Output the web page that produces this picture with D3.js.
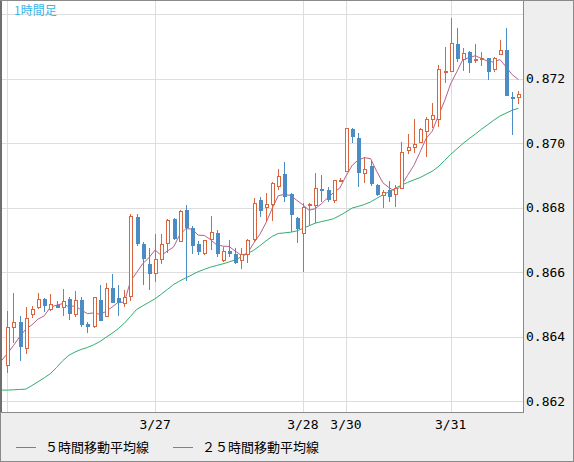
<!DOCTYPE html>
<html>
<head>
<meta charset="utf-8">
<script src="https://cdn.jsdelivr.net/npm/d3@7"></script>
<style>
  body { margin: 0; background: #ffffff; }
  text { font-family: "DejaVu Sans Mono", monospace; font-size: 13px; fill: #000; }
  .jp { font-family: "Noto Sans CJK JP", sans-serif; }
</style>
</head>
<body>
<div id="chart"></div>
<script>
// hourly candles, left to right (index 0 = 3/26 00:00)
var openP  = [0.86312,0.86430,0.86445,0.86365,0.86470,0.86492,0.86517,0.86485,0.86499,0.86492,
              0.86517,0.86470,0.86514,0.86440,0.86431,0.86514,0.86462,0.86552,0.86521,0.86504,
              0.86524,0.86770,0.86688,0.86626,0.86595,0.86641,0.86690,0.86765,0.86696,0.86793,
              0.86736,0.86688,0.86657,0.86702,0.86721,0.86636,0.86665,0.86657,0.86635,0.86654,
              0.86700,0.86824,0.86801,0.86811,0.86866,0.86904,0.86842,0.86767,0.86721,0.86806,
              0.86808,0.86859,0.86855,0.86822,0.86884,0.86912,0.87044,0.87015,0.86907,0.86929,
              0.86870,0.86837,0.86855,0.86842,0.86860,0.86976,0.86986,0.87001,0.87036,0.87072,
              0.87072,0.87220,0.87221,0.87307,0.87260,0.87283,0.87259,0.87262,0.87263,0.87229,
              0.87276,0.87289,0.87142,0.87142];
var highP  = [0.86480,0.86536,0.86465,0.86492,0.86496,0.86536,0.86519,0.86532,0.86510,0.86548,
              0.86523,0.86543,0.86523,0.86447,0.86524,0.86560,0.86568,0.86594,0.86560,0.86545,
              0.86780,0.86781,0.86695,0.86674,0.86719,0.86718,0.86764,0.86767,0.86793,0.86808,
              0.86743,0.86697,0.86700,0.86774,0.86731,0.86677,0.86700,0.86674,0.86674,0.86703,
              0.86829,0.86832,0.86845,0.86881,0.86920,0.86942,0.86845,0.86772,0.86816,0.86814,
              0.86909,0.86901,0.86865,0.86886,0.86892,0.87045,0.87046,0.87032,0.86958,0.86948,
              0.86872,0.86855,0.86883,0.86870,0.87002,0.87027,0.87075,0.87046,0.87080,0.87125,
              0.87242,0.87299,0.87387,0.87356,0.87294,0.87286,0.87307,0.87282,0.87264,0.87266,
              0.87320,0.87356,0.87159,0.87162];
var lowP   = [0.86288,0.86381,0.86326,0.86347,0.86457,0.86487,0.86478,0.86481,0.86490,0.86466,
              0.86452,0.86461,0.86431,0.86411,0.86428,0.86449,0.86461,0.86504,0.86466,0.86493,
              0.86512,0.86681,0.86561,0.86545,0.86571,0.86626,0.86659,0.86700,0.86694,0.86574,
              0.86657,0.86654,0.86655,0.86669,0.86646,0.86633,0.86648,0.86626,0.86609,0.86629,
              0.86695,0.86772,0.86760,0.86760,0.86855,0.86819,0.86726,0.86690,0.86602,0.86746,
              0.86752,0.86819,0.86819,0.86814,0.86882,0.86911,0.86999,0.86863,0.86876,0.86867,
              0.86837,0.86798,0.86819,0.86803,0.86859,0.86965,0.86970,0.86999,0.86958,0.87046,
              0.87049,0.87187,0.87220,0.87252,0.87224,0.87216,0.87247,0.87239,0.87196,0.87220,
              0.87275,0.87146,0.87025,0.87121];
var closeP = [0.86430,0.86445,0.86369,0.86457,0.86485,0.86517,0.86496,0.86501,0.86490,0.86509,
              0.86470,0.86512,0.86437,0.86431,0.86523,0.86450,0.86550,0.86506,0.86506,0.86523,
              0.86774,0.86688,0.86641,0.86595,0.86641,0.86687,0.86761,0.86702,0.86789,0.86736,
              0.86682,0.86664,0.86697,0.86724,0.86656,0.86664,0.86657,0.86630,0.86654,0.86697,
              0.86814,0.86791,0.86811,0.86874,0.86897,0.86834,0.86777,0.86734,0.86802,0.86811,
              0.86860,0.86853,0.86824,0.86885,0.86885,0.87044,0.87020,0.86907,0.86919,0.86872,
              0.86839,0.86847,0.86834,0.86860,0.86971,0.86986,0.86996,0.87041,0.87074,0.87085,
              0.87229,0.87223,0.87309,0.87260,0.87278,0.87249,0.87260,0.87263,0.87221,0.87263,
              0.87286,0.87146,0.87140,0.87150];

// moving averages, first value belongs to the hour before index 0
var maStart = -1;
var ma5  = [0.86325,0.86348,0.86373,0.86400,0.86424,0.86437,0.86455,0.86465,0.86492,0.86498,
            0.86503,0.86493,0.86496,0.86483,0.86472,0.86474,0.86470,0.86478,0.86492,0.86507,
            0.86507,0.86572,0.86599,0.86627,0.86645,0.86669,0.86652,0.86666,0.86678,0.86716,
            0.86735,0.86734,0.86715,0.86714,0.86701,0.86685,0.86681,0.86680,0.86666,0.86652,
            0.86659,0.86690,0.86717,0.86753,0.86797,0.86837,0.86841,0.86838,0.86823,0.86809,
            0.86792,0.86797,0.86812,0.86830,0.86847,0.86861,0.86898,0.86931,0.86948,0.86955,
            0.86952,0.86912,0.86877,0.86862,0.86851,0.86870,0.86900,0.86930,0.86971,0.87014,
            0.87037,0.87085,0.87130,0.87184,0.87221,0.87260,0.87264,0.87271,0.87262,0.87254,
            0.87251,0.87259,0.87236,0.87212,0.87197];
var ma25 = [0.86235,0.86235,0.86236,0.86237,0.86238,0.86249,0.86261,0.86273,0.86286,0.86305,
            0.86326,0.86343,0.86353,0.86361,0.86367,0.86375,0.86385,0.86398,0.86411,0.86425,
            0.86442,0.86463,0.86485,0.86496,0.86507,0.86518,0.86532,0.86547,0.86562,0.86573,
            0.86583,0.86592,0.86602,0.86609,0.86616,0.86621,0.86626,0.86632,0.86638,0.86648,
            0.86658,0.86668,0.86682,0.86697,0.86711,0.86720,0.86722,0.86724,0.86728,0.86736,
            0.86744,0.86752,0.86757,0.86761,0.86766,0.86776,0.86787,0.86799,0.86804,0.86810,
            0.86818,0.86829,0.86840,0.86849,0.86860,0.86870,0.86878,0.86886,0.86893,0.86903,
            0.86913,0.86927,0.86946,0.86965,0.86982,0.86999,0.87014,0.87028,0.87043,0.87057,
            0.87071,0.87084,0.87093,0.87102,0.87108];

// day separators and labels
var dayIdx    = [0, 24, 48, 55, 72];
var dayLabels = ["", "3/27", "3/28", "3/30", "3/31"];
var yTicks      = [0.862, 0.864, 0.866, 0.868, 0.870, 0.872, 0.874];
var yTickLabels = ["0.862", "0.864", "0.866", "0.868", "0.870", "0.872", ""];

var titleText = "1時間足";
var legendNames = ["５時間移動平均線", "２５時間移動平均線"];

var upColor = "#d9653f", downColor = "#4b8cc5";
var ma5Color = "#b3628f", ma25Color = "#2eae6f";

var svgWidth = 574, svgHeight = 462;
var plot = { left: 1, top: 0, right: 523, bottom: 412 };

var svg = d3.select("#chart").append("svg")
    .attr("width", svgWidth)
    .attr("height", svgHeight);

// outer frame
svg.append("rect")
    .attr("x", 0.5).attr("y", 0.5)
    .attr("width", svgWidth - 1).attr("height", svgHeight - 1)
    .attr("fill", "#eeeeee").attr("stroke", "#8a8a8a");

svg.append("rect")
    .attr("x", plot.left).attr("y", plot.top)
    .attr("width", plot.right - plot.left).attr("height", plot.bottom - plot.top)
    .attr("fill", "#ffffff");

svg.append("clipPath").attr("id", "plotclip")
  .append("rect")
    .attr("x", plot.left + 1).attr("y", plot.top + 1)
    .attr("width", plot.right - plot.left - 1).attr("height", plot.bottom - plot.top - 1);

var x = d3.scaleLinear().domain([0, 83]).range([7.3, 518.4]);
var y = d3.scaleLinear().domain([0.862, 0.874]).range([401.4, 14]);

var grid = svg.append("g").attr("shape-rendering", "crispEdges");
grid.selectAll(".hg").data(yTicks).enter().append("line")
    .attr("x1", plot.left).attr("x2", plot.right)
    .attr("y1", function(d) { return Math.round(y(d)) + 0.5; })
    .attr("y2", function(d) { return Math.round(y(d)) + 0.5; })
    .attr("stroke", "#dddddd");
grid.selectAll(".vg").data(dayIdx).enter().append("line")
    .attr("x1", function(d) { return Math.round(x(d)) + 0.5; })
    .attr("x2", function(d) { return Math.round(x(d)) + 0.5; })
    .attr("y1", plot.top).attr("y2", plot.bottom)
    .attr("stroke", "#dddddd");

var chartGroup = svg.append("g").attr("clip-path", "url(#plotclip)");

// moving average lines
var maLine = d3.line()
    .x(function(d, i) { return x(i + maStart); })
    .y(function(d) { return y(d); });

chartGroup.append("path").datum(ma25)
    .attr("d", maLine).attr("fill", "none")
    .attr("stroke", ma25Color).attr("stroke-width", 1);
chartGroup.append("path").datum(ma5)
    .attr("d", maLine).attr("fill", "none")
    .attr("stroke", ma5Color).attr("stroke-width", 1);

// candles
var candles = openP.map(function(o, i) {
    return { i: i, o: o, h: highP[i], l: lowP[i], c: closeP[i] };
});

var cg = chartGroup.append("g").attr("shape-rendering", "crispEdges");
var candle = cg.selectAll("g").data(candles).enter().append("g");

candle.append("line")
    .attr("x1", function(d) { return Math.round(x(d.i)) + 0.5; })
    .attr("x2", function(d) { return Math.round(x(d.i)) + 0.5; })
    .attr("y1", function(d) { return y(d.h); })
    .attr("y2", function(d) { return y(d.l); })
    .attr("stroke", function(d) { return d.c >= d.o ? upColor : downColor; });

candle.append("rect")
    .attr("x", function(d) {
        var cx = Math.round(x(d.i));
        return d.c >= d.o ? cx - 0.5 : cx - 1;
    })
    .attr("y", function(d) { return y(Math.max(d.o, d.c)); })
    .attr("width", function(d) { return d.c >= d.o ? 3 : 4; })
    .attr("height", function(d) { return Math.max(1.5, y(Math.min(d.o, d.c)) - y(Math.max(d.o, d.c))); })
    .attr("fill", function(d) { return d.c >= d.o ? "#ffffff" : downColor; })
    .attr("stroke", function(d) { return d.c >= d.o ? upColor : "none"; })
    .attr("stroke-width", 1);

// plot borders
svg.append("line").attr("x1", 1).attr("x2", 1).attr("y1", 0).attr("y2", plot.bottom)
    .attr("stroke", "#6f6f6f").attr("stroke-width", 2);
svg.append("line").attr("x1", 0).attr("x2", plot.right).attr("y1", 0.5).attr("y2", 0.5)
    .attr("stroke", "#8a8a8a");
svg.append("line").attr("x1", plot.right + 0.5).attr("x2", plot.right + 0.5)
    .attr("y1", 0).attr("y2", plot.bottom + 0.5)
    .attr("stroke", "#8a8a8a");
svg.append("line").attr("x1", 0).attr("x2", plot.right + 1)
    .attr("y1", plot.bottom + 0.5).attr("y2", plot.bottom + 0.5)
    .attr("stroke", "#8a8a8a");

// axis labels
svg.selectAll(".ylab").data(yTicks).enter().append("text")
    .attr("x", 526)
    .attr("y", function(d) { return y(d); })
    .attr("dy", "0.35em")
    .text(function(d, i) { return yTickLabels[i]; });

svg.selectAll(".xlab").data(dayIdx).enter().append("text")
    .attr("x", function(d) { return x(d); })
    .attr("y", 429)
    .attr("text-anchor", "middle")
    .text(function(d, i) { return dayLabels[i]; });

// title
svg.append("text").attr("class", "jp")
    .attr("x", 14).attr("y", 15)
    .style("font-size", "12px")
    .style("fill", "#3ab6e8")
    .text(titleText);

// legend
var legendX = [16, 173];
var legendColors = [ma5Color, ma25Color];
legendNames.forEach(function(name, i) {
    svg.append("line")
        .attr("x1", legendX[i]).attr("x2", legendX[i] + 20)
        .attr("y1", 447.5).attr("y2", 447.5)
        .attr("stroke", legendColors[i]);
    svg.append("text").attr("class", "jp")
        .attr("x", legendX[i] + 29).attr("y", 452)
        .text(name);
});
</script>
</body>
</html>
